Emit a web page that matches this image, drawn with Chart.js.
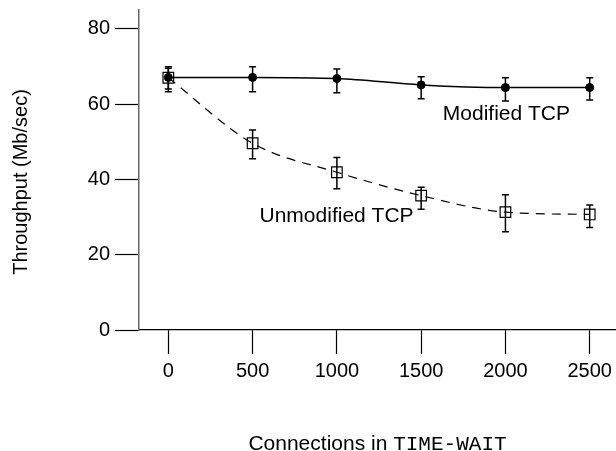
<!DOCTYPE html>
<html>
<head>
<meta charset="utf-8">
<script src="https://cdn.jsdelivr.net/npm/chart.js@4"></script>
<style>
  html, body { margin: 0; padding: 0; background: #fff; overflow: hidden; }
  canvas { display: block; }
</style>
</head>
<body>
<canvas id="myChart" width="616" height="451"></canvas>
<script>
// values
const connections = [0, 500, 1000, 1500, 2000, 2500];
const modified = [67.1, 67.1, 66.8, 65.1, 64.4, 64.4];
const modifiedLow = [63.3, 63.3, 63.0, 61.4, 60.8, 61.1];
const modifiedHigh = [69.9, 69.9, 69.3, 67.3, 67.0, 67.0];
const unmodified = [67.0, 49.6, 41.9, 35.7, 31.3, 30.7];
const unmodifiedLow = [64.0, 45.5, 37.5, 32.1, 26.1, 27.2];
const unmodifiedHigh = [69.5, 53.1, 45.8, 37.9, 35.9, 33.2];
const xTicks = [0, 500, 1000, 1500, 2000, 2500];
const yTicks = [0, 20, 40, 60, 80];

const sans = "'Liberation Sans', Arial, Helvetica, sans-serif";
const mono = "'Liberation Mono', 'Courier New', monospace";

// curve labels, placed in data units
const notes = [
  { text: "Modified TCP", x: 2006, y: 57.6 },
  { text: "Unmodified TCP", x: 998, y: 30.5 },
];

const errorBars = {
  id: 'errorBars',
  afterDatasetsDraw(chart) {
    const ctx = chart.ctx;
    const xs = chart.scales.x, ys = chart.scales.y;
    ctx.save();
    ctx.strokeStyle = '#000';
    ctx.lineWidth = 1.5;
    chart.data.datasets.forEach(ds => {
      ds.data.forEach((p, j) => {
        const x = xs.getPixelForValue(p.x);
        const lo = ys.getPixelForValue(ds.errLow[j]);
        const hi = ys.getPixelForValue(ds.errHigh[j]);
        ctx.beginPath();
        ctx.moveTo(x, lo); ctx.lineTo(x, hi);
        ctx.moveTo(x - 3.5, lo); ctx.lineTo(x + 3.5, lo);
        ctx.moveTo(x - 3.5, hi); ctx.lineTo(x + 3.5, hi);
        ctx.stroke();
      });
    });
    ctx.restore();
  }
};

const textLabels = {
  id: 'textLabels',
  afterDraw(chart) {
    const ctx = chart.ctx;
    const xs = chart.scales.x, ys = chart.scales.y;
    const area = chart.chartArea;
    ctx.save();
    ctx.fillStyle = '#000';
    ctx.font = "21px " + sans;
    ctx.textAlign = 'center';
    ctx.textBaseline = 'middle';
    notes.forEach(n => {
      ctx.fillText(n.text, xs.getPixelForValue(n.x), ys.getPixelForValue(n.y) + 1);
    });

    // y title
    ctx.save();
    ctx.translate(21, 182);
    ctx.rotate(-Math.PI / 2);
    ctx.font = "20px " + sans;
    ctx.fillText("Throughput (Mb/sec)", 0, 0);
    ctx.restore();

    // x title, mixed fonts
    const a = "Connections in ", b = "TIME-WAIT";
    ctx.textAlign = 'left';
    ctx.textBaseline = 'alphabetic';
    ctx.font = "21px " + sans;
    const wa = ctx.measureText(a).width;
    ctx.font = "21px " + mono;
    const wb = ctx.measureText(b).width;
    const x0 = (area.left + area.right) / 2 - (wa + wb) / 2;
    ctx.font = "21px " + sans;
    ctx.fillText(a, x0, 450);
    ctx.font = "21px " + mono;
    ctx.fillText(b, x0 + wa, 450);
    ctx.restore();
  }
};

const data = {
  datasets: [
    {
      label: "Modified TCP",
      data: connections.map((c, i) => ({ x: c, y: modified[i] })),
      errLow: modifiedLow,
      errHigh: modifiedHigh,
      borderColor: "#000",
      backgroundColor: "#000",
      borderWidth: 1.5,
      pointStyle: 'circle',
      pointRadius: 4,
      pointBorderWidth: 1,
      cubicInterpolationMode: 'monotone',
    },
    {
      label: "Unmodified TCP",
      data: connections.map((c, i) => ({ x: c, y: unmodified[i] })),
      errLow: unmodifiedLow,
      errHigh: unmodifiedHigh,
      borderColor: "#000",
      backgroundColor: "rgba(0,0,0,0)",
      borderWidth: 1.2,
      borderDash: [9, 7],
      pointStyle: 'rect',
      pointRadius: 7.5,
      pointBorderWidth: 1.2,
      cubicInterpolationMode: 'monotone',
    },
  ],
};

const config = {
  type: 'line',
  data: data,
  options: {
    responsive: false,
    animation: false,
    devicePixelRatio: 1,
    layout: { autoPadding: false, padding: { top: 10, right: 0, bottom: 0, left: 0 } },
    plugins: {
      legend: { display: false },
      tooltip: { enabled: false },
    },
    scales: {
      x: {
        type: 'linear',
        min: -174,
        max: 2656,
        afterBuildTicks: s => { s.ticks = xTicks.map(v => ({ value: v })); },
        afterFit: s => { s.height = 121; s.paddingLeft = 0; s.paddingRight = 0; },
        grid: { drawOnChartArea: false, drawTicks: true, tickLength: 24, tickColor: '#000', tickWidth: 1.2 },
        border: { color: '#000', width: 1.2 },
        ticks: {
          color: '#000', font: { size: 20, family: sans }, padding: 5,
          maxRotation: 0, autoSkip: false, callback: v => String(v),
        },
      },
      y: {
        type: 'linear',
        min: 0,
        max: 85,
        afterBuildTicks: s => { s.ticks = yTicks.map(v => ({ value: v })); },
        afterFit: s => { s.width = 139; s.paddingTop = 0; s.paddingBottom = 0; },
        grid: { drawOnChartArea: false, drawTicks: true, tickLength: 24, tickColor: '#000', tickWidth: 1.2 },
        border: { color: '#666', width: 1.5 },
        ticks: { color: '#000', font: { size: 20, family: sans }, padding: 5, callback: v => String(v) },
      },
    },
  },
  plugins: [errorBars, textLabels],
};

const myChart = new Chart(document.getElementById('myChart'), config);
</script>
</body>
</html>
